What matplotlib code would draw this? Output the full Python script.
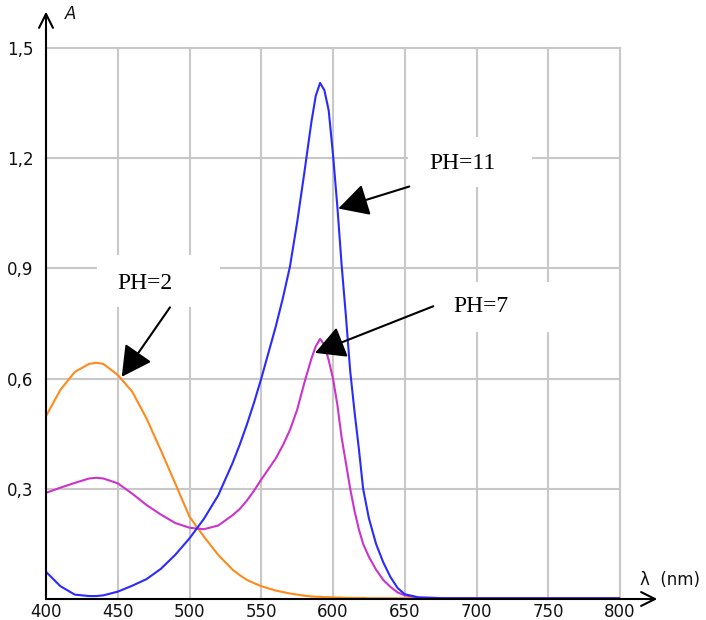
import matplotlib
matplotlib.use("Agg")
import matplotlib.pyplot as plt
from matplotlib.patches import Rectangle

# ---- data ----
wavelength = [400, 410, 420, 430, 435, 440, 450, 460, 470, 480, 490, 500,
              510, 520, 530, 535, 540, 545, 550, 560, 565, 570, 575, 580,
              585, 588, 591, 594, 597, 600, 603, 606, 609, 612, 615, 618,
              621, 625, 630, 635, 640, 645, 650, 660, 680, 700, 750, 800]

ph11 = [0.074, 0.035, 0.012, 0.008, 0.008, 0.010,
        0.020, 0.036, 0.054, 0.082, 0.120, 0.165,
        0.218, 0.282, 0.370, 0.420, 0.475, 0.535,
        0.600, 0.740, 0.818, 0.905, 1.025, 1.160,
        1.300, 1.370, 1.405, 1.385, 1.330, 1.210,
        1.070, 0.910, 0.770, 0.620, 0.510, 0.410,
        0.300, 0.220, 0.150, 0.100, 0.060, 0.030,
        0.013, 0.004, 0.002, 0.002, 0.002, 0.002]

ph7 = [0.289, 0.303, 0.316, 0.328, 0.330, 0.328,
       0.315, 0.287, 0.256, 0.230, 0.207, 0.194,
       0.190, 0.200, 0.228, 0.245, 0.268, 0.295,
       0.325, 0.382, 0.418, 0.460, 0.515, 0.588,
       0.655, 0.688, 0.708, 0.692, 0.650, 0.600,
       0.530, 0.440, 0.370, 0.300, 0.240, 0.190,
       0.150, 0.115, 0.080, 0.052, 0.033, 0.018,
       0.010, 0.004, 0.002, 0.002, 0.002, 0.002]

ph2 = [0.498, 0.569, 0.618, 0.640, 0.643, 0.640,
       0.610, 0.565, 0.492, 0.405, 0.315, 0.224,
       0.170, 0.120, 0.080, 0.065, 0.052, 0.043,
       0.035, 0.023, 0.019, 0.015, 0.012, 0.009,
       0.007, 0.006, 0.006, 0.005, 0.005, 0.004,
       0.004, 0.004, 0.003, 0.003, 0.003, 0.003,
       0.003, 0.002, 0.002, 0.002, 0.002, 0.002,
       0.002, 0.002, 0.002, 0.002, 0.002, 0.002]

x_ticks = [400, 450, 500, 550, 600, 650, 700, 750, 800]
x_tick_labels = ["400", "450", "500", "550", "600", "650", "700", "750", "800"]
y_ticks = [0.3, 0.6, 0.9, 1.2, 1.5]
y_tick_labels = ["0,3", "0,6", "0,9", "1,2", "1,5"]

labels = ["PH=11", "PH=7", "PH=2"]
label_pos = [(666.9, 1.186), (683.6, 0.797), (449.5, 0.860)]
arrow_tail = [(653.2, 1.123), (669.9, 0.797), (486.4, 0.794)]
arrow_tip = [(603.7, 1.063), (587.5, 0.670), (452.8, 0.605)]
label_boxes = [(652.3, 1.121, 86.4, 0.136), (669.7, 0.726, 86.4, 0.136), (435.5, 0.794, 85.8, 0.142)]

# ---- figure ----
fig = plt.figure(figsize=(7.06, 6.2), dpi=100)
ax = fig.add_axes([46 / 706, 21 / 620, 574 / 706, 551 / 620])
ax.set_xlim(400, 800)
ax.set_ylim(0, 1.5)

for s in ax.spines.values():
    s.set_visible(False)

ax.set_xticks(x_ticks)
ax.set_xticklabels(x_tick_labels)
ax.set_yticks(y_ticks)
ax.set_yticklabels(y_tick_labels)
ax.tick_params(length=0, labelsize=12, colors="#111111")
ax.tick_params(axis="x", pad=3)
ax.tick_params(axis="y", pad=9)
for lbl in ax.get_xticklabels() + ax.get_yticklabels():
    lbl.set_family("DejaVu Sans")

ax.grid(True, color="#c8c8c8", linewidth=1.5, zorder=0)
for gl in ax.get_xgridlines() + ax.get_ygridlines():
    gl.set_clip_on(False)
ax.set_axisbelow(True)

# white boxes behind labels
for (bx, by, bw, bh) in label_boxes:
    ax.add_patch(Rectangle((bx, by), bw, bh, facecolor="white", edgecolor="none", zorder=1.5))

ax.plot(wavelength, ph2, color="#ff8a1c", lw=1.5, zorder=3)
ax.plot(wavelength, ph7, color="#cc33cc", lw=1.5, zorder=3)
ax.plot(wavelength, ph11, color="#2a2aff", lw=1.5, zorder=4)

# axes with arrows
ax.annotate("", xy=(0, 1.066), xytext=(0, 0), xycoords="axes fraction",
            arrowprops=dict(arrowstyle="->,head_length=0.5,head_width=0.25",
                            lw=1.5, color="black", shrinkA=0, shrinkB=0,
                            mutation_scale=20), annotation_clip=False, zorder=6)
ax.annotate("", xy=(1.065, 0), xytext=(0, 0), xycoords="axes fraction",
            arrowprops=dict(arrowstyle="->,head_length=0.5,head_width=0.25",
                            lw=1.5, color="black", shrinkA=0, shrinkB=0,
                            mutation_scale=20), annotation_clip=False, zorder=6)

ax.text(0.043, 1.062, "A", transform=ax.transAxes, fontsize=12, style="italic",
        family="DejaVu Sans", ha="center", va="center", color="#111111")
ax.text(1.087, 0.034, "λ  (nm)", transform=ax.transAxes, fontsize=12,
        family="DejaVu Sans", ha="center", va="center", color="#111111")

for text, (tx, ty), tail, tip in zip(labels, label_pos, arrow_tail, arrow_tip):
    ax.text(tx, ty, text, fontsize=17, family="Liberation Serif", ha="left",
            va="center", color="black", zorder=7)
    ax.annotate("", xy=tip, xytext=tail,
                arrowprops=dict(arrowstyle="-|>,head_length=0.93,head_width=0.5",
                                lw=1.5, color="black", shrinkA=0, shrinkB=0,
                                mutation_scale=20), zorder=7)

fig.savefig("out.png", dpi=100)
